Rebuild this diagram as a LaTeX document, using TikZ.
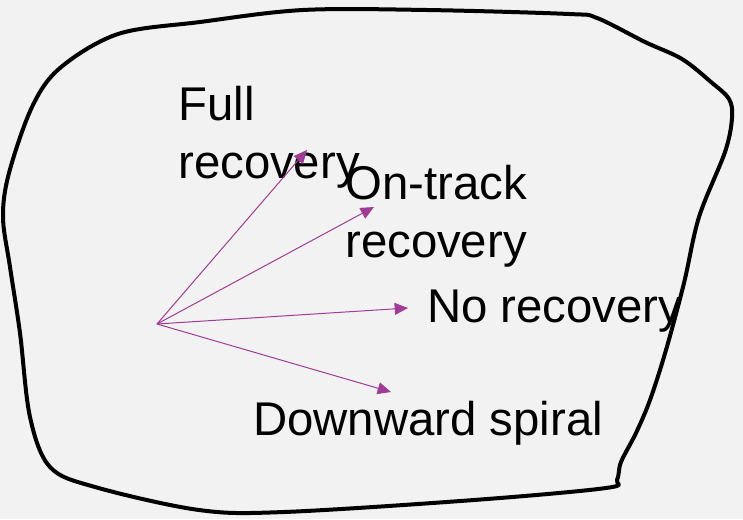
\documentclass[tikz,border=0pt]{standalone}
\usepackage{fontspec}
\setmainfont{Liberation Sans}
\usetikzlibrary{arrows.meta}
\definecolor{fanpurple}{RGB}{160,60,150}
\definecolor{slidegray}{RGB}{242,242,242}

\begin{document}
\begin{tikzpicture}[x=0.75pt,y=0.75pt,yscale=-1,xscale=1,
  outcome/.style={anchor=base west,inner sep=0pt,font=\fontsize{35.5}{43}\selectfont,align=left},
  fan/.style={draw=fanpurple,line width=0.75pt,-{Triangle[length=10pt,width=9pt]}}]
%set diagram to the slide size
\path[fill=slidegray,use as bounding box] (0,0) rectangle (743,519);

%Shape: rough outline
\draw[line width=3pt,line join=round] plot[smooth cycle,tension=0.55] coordinates {
  (303,10) (427,10) (569,14) (597,18) (645,42) (682,59) (711,82) (729,99) (732,118)
  (725,152) (699,217) (684,283) (666,350) (650,400) (636,433) (621,462) (617,480)
  (606,488) (474,500) (284,512) (199,510) (95,487) (50,467) (30,417) (20,333)
  (10,267) (3,217) (9,173) (32,107) (60,68) (118,34) (200,22)};

%Origin of the arrows
\coordinate (origin) at (157,324);
\coordinate (fullTip) at (307,150);
\coordinate (trackTip) at (374,207);
\coordinate (noneTip) at (408,308);
\coordinate (spiralTip) at (391,392);

% Text Node
\node[outcome] (full) at (178,178) {Full\\recovery};
% Text Node
\node[outcome] (track) at (345,257) {On-track\\recovery};
% Text Node
\node[outcome] (none) at (427,322) {No recovery};
% Text Node
\node[outcome] (spiral) at (253,435) {Downward spiral};

%Arrows
\draw[fan] (origin) -- (fullTip);
\draw[fan] (origin) -- (trackTip);
\draw[fan] (origin) -- (noneTip);
\draw[fan] (origin) -- (spiralTip);

\end{tikzpicture}
\end{document}
